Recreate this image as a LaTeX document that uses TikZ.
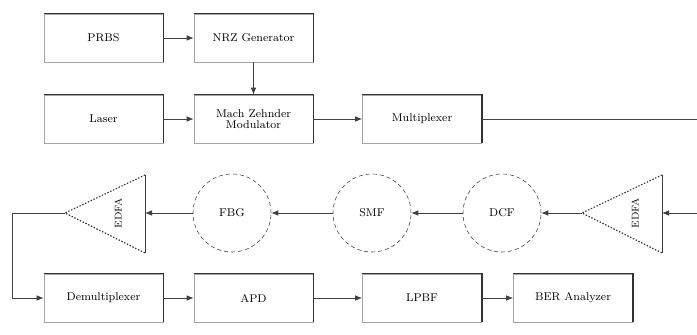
\documentclass[tikz,border=0pt]{standalone}
\usetikzlibrary{arrows.meta}
\begin{document}
\begin{tikzpicture}[x=0.025cm,y=-0.025cm,font=\footnotesize,
    blk/.style={draw=black!35,line width=0.4pt,fill=white,minimum width=2.975cm,minimum height=1.2cm,align=center},
    fib/.style={draw=black!75,densely dashed,circle,minimum size=1.95cm,inner sep=0pt},
    con/.style={draw=black!75,line width=0.6pt,-{Latex[length=5pt,width=4pt]}},
    wire/.style={draw=black!75,line width=0.6pt},
    ampside/.style={draw=black!80,line width=0.8pt,dash pattern=on 1pt off 1.2pt}]
    \useasboundingbox (0,0) rectangle (697,335);
    % transmitter
    \node[blk] (prbs) at (103.5,38) {PRBS};
    \node[blk] (nrz) at (253.5,38) {NRZ Generator};
    \node[blk] (laser) at (103.5,119) {Laser};
    \node[blk] (mzm) at (253.5,119) {Mach Zehnder\\[-2pt]Modulator};
    \node[blk] (mux) at (422,119) {Multiplexer};
    % receiver
    \node[blk] (demux) at (103.5,298) {Demultiplexer};
    \node[blk] (apd) at (253.5,298) {APD};
    \node[blk] (lpbf) at (422,298) {LPBF};
    \node[blk] (ber) at (573,298) {BER Analyzer};
    \foreach \b in {prbs,nrz,laser,mzm,mux,demux,apd,lpbf,ber}
        \draw[black!80,line width=1.1pt] (\b.north west) -- (\b.north east) -- (\b.south east);
    % fibre link
    \node[fib] (fbg) at (232,213) {FBG};
    \node[fib] (smf) at (372,213) {SMF};
    \node[fib] (dcf) at (502,213) {DCF};
    % amplifiers
    \coordinate (ampR) at (582,213);
    \coordinate (ampRt) at (662,175);
    \coordinate (ampRb) at (662,253);
    \coordinate (ampRin) at (662,213);
    \coordinate (ampL) at (65,213);
    \coordinate (ampLt) at (145,175);
    \coordinate (ampLb) at (145,253);
    \coordinate (ampLin) at (145,213);
    \draw[ampside] (ampRt) -- (ampR) -- (ampRb);
    \draw[black!75,line width=0.6pt] (ampRt) -- (ampRb);
    \draw[ampside] (ampLt) -- (ampL) -- (ampLb);
    \draw[black!75,line width=0.6pt] (ampLt) -- (ampLb);
    \node[rotate=90,font=\scriptsize] (edfaR) at (635,213) {EDFA};
    \node[rotate=90,font=\scriptsize] (edfaL) at (118,213) {EDFA};
    \coordinate (rc1) at (699,119);
    \coordinate (rc2) at (699,213);
    \coordinate (lc1) at (12,213);
    \coordinate (lc2) at (12,298);
    % connectors
    \draw[con] (prbs) -- (nrz);
    \draw[con] (nrz) -- (mzm);
    \draw[con] (laser) -- (mzm);
    \draw[con] (mzm) -- (mux);
    \draw[wire] (mux.east) -- (rc1) -- (rc2);
    \draw[con] (rc2) -- (ampRin);
    \draw[con] (ampR) -- (dcf);
    \draw[con] (dcf) -- (smf);
    \draw[con] (smf) -- (fbg);
    \draw[con] (fbg) -- (ampLin);
    \draw[con] (ampL) -- (lc1) -- (lc2) -- (demux);
    \draw[con] (demux) -- (apd);
    \draw[con] (apd) -- (lpbf);
    \draw[con] (lpbf) -- (ber);
\end{tikzpicture}
\end{document}
